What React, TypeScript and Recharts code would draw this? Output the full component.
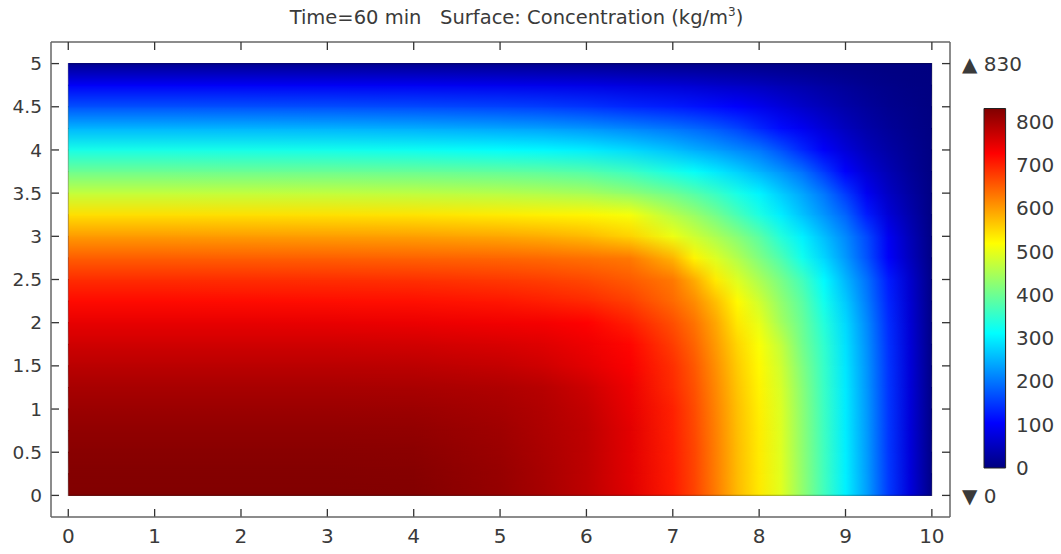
import { ComposedChart, BarChart, Bar, Scatter, XAxis, YAxis, ReferenceArea, ReferenceLine } from "recharts";

// grid nodes of the concentration field (x: length, y: height)
const xNodes = [0, 1, 2, 3, 4, 5, 5.5, 6, 6.5, 7, 7.25, 7.5, 7.75, 8, 8.25, 8.5, 8.75, 9, 9.25, 9.5, 9.75, 10];
const yNodes = [0, 0.25, 0.5, 0.75, 1, 1.25, 1.5, 1.75, 2, 2.25, 2.5, 2.75, 3, 3.25, 3.5, 3.75, 4, 4.25, 4.5, 4.75, 5];

// concentration (kg/m^3), one row per yNodes entry, one column per xNodes entry
const conc = [
  [828, 828, 828, 828, 827, 812, 798, 780, 752, 705, 672, 625, 575, 537, 495, 430, 365, 300, 232, 150, 75, 5],
  [826, 826, 826, 826, 825, 811, 797, 780, 751, 704, 671, 624, 574, 536, 494, 429, 364, 299, 231, 149, 74, 5],
  [822, 822, 822, 822, 821, 808, 795, 780, 750, 703, 670, 623, 573, 535, 493, 428, 363, 298, 230, 148, 74, 5],
  [816, 816, 816, 816, 815, 804, 792, 779, 750, 701, 668, 621, 572, 534, 492, 427, 362, 297, 229, 148, 73, 5],
  [808, 808, 808, 808, 807, 799, 790, 775, 745, 700, 665, 619, 570, 532, 490, 425, 360, 296, 228, 147, 73, 5],
  [797, 797, 797, 797, 796, 791, 785, 768, 740, 692, 660, 615, 566, 528, 486, 422, 358, 294, 226, 146, 72, 5],
  [782, 782, 782, 782, 781, 774, 765, 750, 730, 688, 655, 609, 560, 523, 480, 415, 355, 291, 224, 145, 72, 5],
  [765, 765, 765, 765, 764, 758, 752, 740, 722, 677, 645, 600, 552, 515, 470, 405, 350, 287, 221, 143, 71, 5],
  [745, 745, 745, 744, 742, 737, 734, 726, 702, 662, 633, 590, 537, 500, 445, 397, 340, 280, 215, 139, 69, 5],
  [718, 718, 717, 716, 714, 708, 702, 693, 675, 640, 612, 570, 522, 480, 430, 385, 325, 268, 205, 132, 66, 5],
  [690, 690, 689, 688, 686, 680, 675, 667, 652, 628, 586, 534, 490, 450, 410, 365, 308, 252, 195, 125, 62, 5],
  [650, 650, 649, 648, 646, 643, 640, 634, 628, 580, 527, 490, 455, 415, 375, 325, 278, 228, 170, 100, 50, 4],
  [600, 600, 599, 598, 596, 590, 585, 575, 555, 505, 478, 450, 420, 385, 340, 300, 258, 215, 162, 92, 45, 4],
  [545, 545, 544, 543, 541, 534, 530, 526, 512, 460, 435, 405, 370, 335, 298, 262, 225, 185, 125, 70, 35, 3],
  [470, 470, 469, 468, 465, 459, 454, 446, 428, 400, 380, 357, 330, 303, 270, 238, 200, 150, 92, 55, 27, 3],
  [400, 400, 399, 398, 396, 390, 386, 378, 360, 330, 315, 295, 275, 250, 225, 195, 150, 102, 68, 42, 20, 2],
  [330, 330, 329, 327, 322, 313, 307, 298, 282, 260, 245, 232, 216, 200, 170, 135, 100, 72, 48, 30, 15, 2],
  [252, 252, 251, 249, 245, 238, 233, 225, 213, 198, 188, 175, 158, 135, 112, 92, 70, 50, 33, 20, 10, 2],
  [170, 170, 169, 167, 164, 158, 153, 146, 135, 126, 119, 112, 103, 90, 75, 60, 46, 33, 22, 13, 7, 1],
  [98, 98, 97, 96, 94, 90, 87, 83, 77, 70, 66, 61, 56, 50, 42, 35, 27, 20, 13, 8, 4, 1],
  [12, 12, 12, 12, 11, 10, 10, 9, 8, 7, 7, 6, 6, 5, 5, 4, 3, 2, 2, 1, 1, 0],
];

const xTicks = [0, 1, 2, 3, 4, 5, 6, 7, 8, 9, 10];
const yTicks = [0, 0.5, 1, 1.5, 2, 2.5, 3, 3.5, 4, 4.5, 5];
const cbTicks = [0, 100, 200, 300, 400, 500, 600, 700, 800];
const cMax = 830;
const cMin = 0;
const colorbar = [{ name: "c", value: cMax }];
// corners of the geometry (0..10 x 0..5), used to anchor the axes
const corners = [
  { x: 0, y: 0 },
  { x: 10, y: 5 },
];

const FONT = '"DejaVu Sans", Verdana, sans-serif';
const TEXT = "#3a3a3a";
const FRAME = "#666";
const TICK = "#333";
const X_DOMAIN: [number, number] = [-0.2, 10.21];
const Y_DOMAIN: [number, number] = [-0.25, 5.25];

// rainbow (jet) colour table over [0, cMax]
function jet(v: number) {
  const t = Math.max(0, Math.min(1, v / cMax));
  const ch = (a: number) => Math.round(255 * Math.max(0, Math.min(1, a)));
  const r = ch(Math.min(4 * t - 1.5, -4 * t + 4.5));
  const g = ch(Math.min(4 * t - 0.5, -4 * t + 3.5));
  const b = ch(Math.min(4 * t + 0.5, -4 * t + 2.5));
  return `rgb(${r},${g},${b})`;
}

// a band between two grid rows: lower row as the base, upper row faded in on top.
// Bands overlap by half a pixel so no seam shows between them.
function band(j: number) {
  return (p: any) => (
    <g>
      <rect x={p.x} y={p.y - 0.5} width={p.width} height={p.height + 1} fill={`url(#row${j})`} />
      <rect
        x={p.x}
        y={p.y - 0.5}
        width={p.width}
        height={p.height + 1}
        fill={`url(#row${j + 1})`}
        mask="url(#fadeDown)"
      />
    </g>
  );
}

const yTickFont = { fill: TEXT, fontSize: 18.5, fontFamily: FONT };
const xTickFont = { fill: TEXT, fontSize: 20, fontFamily: FONT };
const hidden = () => <g />;
const tickMark = { stroke: TICK, strokeWidth: 1.3 };
const frameLine = { stroke: FRAME, strokeWidth: 1.5 };

export default function App() {
  return (
    <div style={{ position: "absolute", left: 0, top: 0, width: 1061, height: 554, background: "#fff", fontFamily: FONT }}>
      <svg width={0} height={0} style={{ position: "absolute" }}>
        <defs>
          {conc.map((row, j) => (
            <linearGradient key={j} id={`row${j}`} x1="0" y1="0" x2="1" y2="0">
              {row.map((v, i) => (
                <stop key={i} offset={xNodes[i] / 10} stopColor={jet(v)} />
              ))}
            </linearGradient>
          ))}
          <linearGradient id="fadeGrad" x1="0" y1="0" x2="0" y2="1">
            <stop offset="0" stopColor="#fff" />
            <stop offset="1" stopColor="#000" />
          </linearGradient>
          <mask id="fadeDown" maskContentUnits="objectBoundingBox">
            <rect x="0" y="0" width="1" height="1" fill="url(#fadeGrad)" />
          </mask>
          <linearGradient id="cbar" x1="0" y1="1" x2="0" y2="0">
            {[0, 1, 3, 5, 7, 8].map((k) => (
              <stop key={k} offset={k / 8} stopColor={jet((k / 8) * cMax)} />
            ))}
          </linearGradient>
        </defs>
      </svg>

      <div
        style={{
          position: "absolute",
          left: 0,
          top: 5,
          width: 1033,
          textAlign: "center",
          fontSize: 19.5,
          lineHeight: "26px",
          color: TEXT,
          whiteSpace: "pre",
        }}
      >
        {"Time=60 min   Surface: Concentration (kg/m"}
        <span style={{ fontSize: 12, position: "relative", top: -8 }}>3</span>
        {")"}
      </div>

      <div style={{ position: "absolute", left: 0, top: 0 }}>
        <ComposedChart width={1061} height={554} margin={{ top: 42, right: 111, bottom: 0, left: 0 }}>
          {/* inward tick marks on all four sides of the frame */}
          <XAxis xAxisId="xt" dataKey="x" orientation="top" mirror type="number" domain={X_DOMAIN} ticks={xTicks} height={1}
            tick={hidden} tickSize={8} tickLine={tickMark} axisLine={frameLine} allowDataOverflow />
          <XAxis xAxisId="xb" dataKey="x" orientation="bottom" mirror type="number" domain={X_DOMAIN} ticks={xTicks} height={1}
            tick={hidden} tickSize={8} tickLine={tickMark} axisLine={false} allowDataOverflow />
          <YAxis yAxisId="yl" dataKey="y" orientation="left" mirror type="number" domain={Y_DOMAIN} ticks={yTicks} width={1}
            tick={hidden} tickSize={8} tickLine={tickMark} axisLine={false} allowDataOverflow />
          <YAxis yAxisId="yr" dataKey="y" orientation="right" mirror type="number" domain={Y_DOMAIN} ticks={yTicks} width={1}
            tick={hidden} tickSize={8} tickLine={tickMark} axisLine={frameLine} allowDataOverflow />

          <XAxis xAxisId="x" dataKey="x" type="number" domain={X_DOMAIN} ticks={xTicks} height={37} tickLine={false}
            tickSize={8} tickMargin={4} axisLine={frameLine} tick={xTickFont} allowDataOverflow />
          <YAxis yAxisId="y" dataKey="y" type="number" domain={Y_DOMAIN} ticks={yTicks} width={51} tickLine={false}
            tickSize={8} tickMargin={1} axisLine={frameLine} tick={yTickFont} allowDataOverflow />

          <Scatter xAxisId="x" yAxisId="y" data={corners} dataKey="y" shape={hidden} isAnimationActive={false} />
          <Scatter xAxisId="xt" yAxisId="yr" data={corners} dataKey="y" shape={hidden} isAnimationActive={false} />
          <Scatter xAxisId="xb" yAxisId="yl" data={corners} dataKey="y" shape={hidden} isAnimationActive={false} />

          {yNodes.slice(0, -1).map((y, j) => (
            <ReferenceArea key={j} xAxisId="x" yAxisId="y" x1={xNodes[0]} x2={xNodes[xNodes.length - 1]}
              y1={y} y2={yNodes[j + 1]} ifOverflow="visible" shape={band(j)} />
          ))}
          <ReferenceArea xAxisId="x" yAxisId="y" x1={0} x2={10} y1={0} y2={5} fill="none"
            stroke="rgba(0,0,0,0.25)" strokeWidth={1.2} ifOverflow="visible" />

          {/* max / min markers */}
          <ReferenceLine xAxisId="x" yAxisId="y" y={5} stroke="none" ifOverflow="visible"
            label={{ value: `▲ ${cMax}`, position: "right", offset: 12, fill: TEXT, fontSize: 20, fontFamily: FONT }} />
          <ReferenceLine xAxisId="x" yAxisId="y" y={0} stroke="none" ifOverflow="visible"
            label={{ value: `▼ ${cMin}`, position: "right", offset: 12, fill: TEXT, fontSize: 20, fontFamily: FONT }} />
        </ComposedChart>
      </div>

      {/* colour legend */}
      <div style={{ position: "absolute", left: 983, top: 0 }}>
        <BarChart width={78} height={554} data={colorbar} margin={{ top: 108.5, bottom: 86, left: 0, right: 0 }}
          barCategoryGap={0}>
          <XAxis dataKey="name" hide />
          <YAxis yAxisId="c" orientation="right" type="number" domain={[0, cMax]} ticks={cbTicks} width={54}
            tickLine={false} axisLine={false} tickSize={0} tickMargin={9} tick={xTickFont} />
          <Bar yAxisId="c" dataKey="value" fill="url(#cbar)" stroke="#222" strokeWidth={1} barSize={24} isAnimationActive={false} />
        </BarChart>
      </div>
    </div>
  );
}
